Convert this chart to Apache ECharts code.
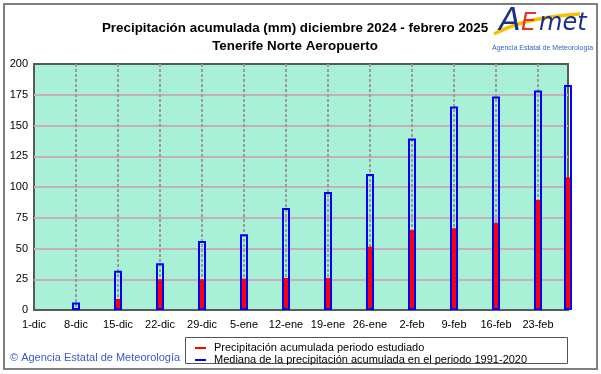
<!DOCTYPE html>
<html>
<head>
<meta charset="utf-8">
<script src="https://cdn.jsdelivr.net/npm/echarts@6/dist/echarts.min.js"></script>
<style>
html,body{margin:0;padding:0;background:#fff;}
#chart{width:601px;height:374px;}
</style>
</head>
<body>
<div id="chart"></div>
<script>
// ---- data ----
var startDate = '2024-12-01';
var endDate = '2025-02-28';
var tickLabels = ['1-dic','8-dic','15-dic','22-dic','29-dic','5-ene','12-ene','19-ene','26-ene','2-feb','9-feb','16-feb','23-feb'];
var barDates = ['2024-12-08','2024-12-15','2024-12-22','2024-12-29','2025-01-05','2025-01-12','2025-01-19','2025-01-26','2025-02-02','2025-02-09','2025-02-16','2025-02-23','2025-02-28'];
var precipStudied = [0, 9, 25, 25, 25.5, 26, 26, 51.5, 65, 66.5, 71, 89.5, 108];
var medianNormal = [6, 32, 38, 56, 61.5, 83, 96, 110.5, 139.5, 165.5, 173.5, 178.5, 183];
var seriesNames = ['Precipitación acumulada periodo estudiado', 'Mediana de la precipitación acumulada en el periodo 1991-2020'];
var titleLines = ['Precipitación acumulada (mm) diciembre 2024 - febrero 2025', 'Tenerife Norte Aeropuerto'];

function dayIndex(d){ return Math.round((Date.parse(d) - Date.parse(startDate)) / 86400000); }
var maxDay = dayIndex(endDate);
var redData = barDates.map(function(d,i){ return [dayIndex(d), precipStudied[i]]; });
var blueData = barDates.map(function(d,i){ return [dayIndex(d), medianNormal[i]]; });

var FONT = 'Liberation Sans, Arial, sans-serif';
var chart = echarts.init(document.getElementById('chart'), null, {renderer:'canvas'});

function xAxisCfg(show){
  return {
    type:'value', min:0, max:maxDay, interval:7, show:show,
    axisLine:{show:false}, axisTick:{show:false},
    axisLabel:{show:show, color:'#000', fontFamily:FONT, fontSize:11, margin:9, showMaxLabel:false,
      formatter:function(v){ var k=Math.round(v/7); return (v%7===0 && tickLabels[k]) ? tickLabels[k] : ''; }},
    splitLine:{show:show, showMinLine:false, showMaxLine:false, lineStyle:{color:'#9a9a9a', width:2, type:[3,2]}}
  };
}

chart.setOption({
  animation:false,
  backgroundColor:'#fff',
  title:{
    text: titleLines.join('\n'),
    left: 290, top: 14, textAlign:'center',
    textStyle:{fontFamily:FONT, fontSize:13.4, fontWeight:'bold', color:'#000', lineHeight:18}
  },
  grid:{left:34, right:33, top:64, bottom:64, show:true, backgroundColor:'#a8f0d6', borderColor:'#5a5a5a', borderWidth:2},
  xAxis:[xAxisCfg(true), xAxisCfg(false)],
  yAxis:{
    type:'value', min:0, max:200, interval:25,
    axisLine:{show:false}, axisTick:{show:false},
    axisLabel:{color:'#000', fontFamily:FONT, fontSize:11, margin:6},
    splitLine:{show:true, showMinLine:false, showMaxLine:false, lineStyle:{color:'#c6aebe', width:2}}
  },
  legend:{
    left:195, top:342, orient:'vertical', itemGap:0, itemWidth:11, itemHeight:2,
    selectedMode:false, icon:'rect', padding:0,
    textStyle:{fontFamily:FONT, fontSize:11, color:'#000', lineHeight:12, height:12, padding:[0,0,0,3]},
    data:[
      {name:seriesNames[0], itemStyle:{color:'#ff0000'}},
      {name:seriesNames[1], itemStyle:{color:'#0000ff', borderWidth:0}}
    ]
  },
  graphic:[
    {type:'rect', shape:{x:4, y:4, width:593, height:365}, style:{fill:'none', stroke:'#808080', lineWidth:2}, z:-1},
    {type:'rect', shape:{x:185.5, y:337.5, width:382, height:26}, style:{fill:'#fff', stroke:'#555', lineWidth:1}, z:-1},
    {type:'text', left:10, top:352, style:{text:'© Agencia Estatal de Meteorología', fontFamily:FONT, fontSize:11, fill:'#3a5cc0'}},
    // logo
    {type:'bezierCurve', shape:{x1:494, y1:34, x2:580, y2:14, cpx1:520, cpy1:20, cpx2:550, cpy2:16}, style:{stroke:'#f6c200', lineWidth:3.5, fill:'none'}, z:10},
    {type:'text', left:499, top:6, style:{text:'A', fontFamily:'DejaVu Sans', fontStyle:'italic', fontSize:32, fill:'#1a2e8a'}, z:11},
    {type:'text', left:521, top:12, style:{text:'E', fontFamily:'DejaVu Sans', fontStyle:'italic', fontSize:24, fill:'#e8302a'}, z:11},
    {type:'text', left:539, top:12, style:{text:'met', fontFamily:'DejaVu Sans', fontStyle:'italic', fontSize:24, fill:'#1a2e8a'}, z:11},
    {type:'text', left:492, top:45, style:{text:'Agencia Estatal de Meteorología', fontFamily:FONT, fontSize:7, fill:'#3a5cc0'}, z:11}
  ],
  series:[
    {name:seriesNames[0], type:'bar', xAxisIndex:0, data:redData, barWidth:6, clip:false,
      itemStyle:{color:'#ff0000'}},
    {name:seriesNames[1], type:'bar', xAxisIndex:1, data:blueData, barWidth:8, clip:false,
      itemStyle:{color:'rgba(0,0,0,0)', borderColor:'#0000ff', borderWidth:2}}
  ]
});
</script>
</body>
</html>
